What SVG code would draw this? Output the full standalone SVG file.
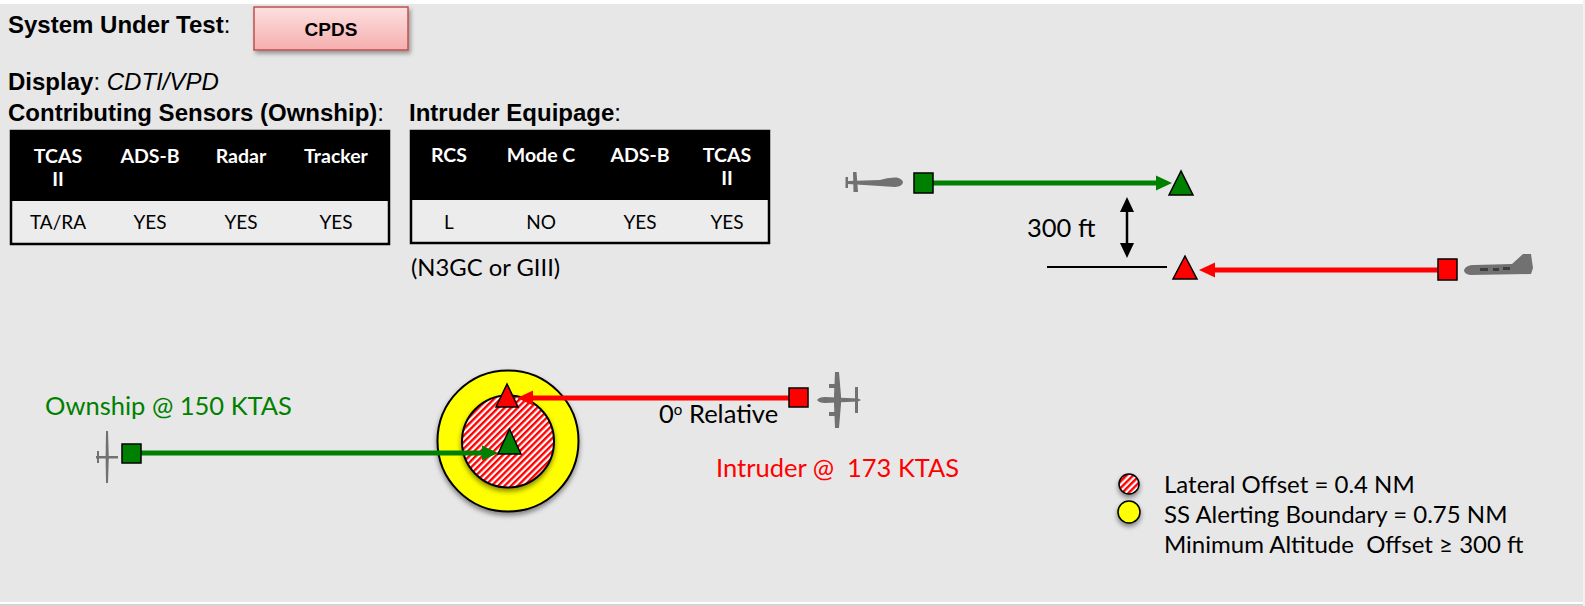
<svg xmlns="http://www.w3.org/2000/svg" width="1585" height="606" viewBox="0 0 1585 606">
  <defs>
    <style>
      .hd { font-family: "Liberation Sans", Arial, sans-serif; font-size: 24px; fill: #000; }
      .b { font-weight: bold; }
      .th { font-family: Lato, "Open Sans", sans-serif; font-weight: 700; font-size: 19.5px; fill: #fff; text-anchor: middle; }
      .td { font-family: Lato, "Open Sans", sans-serif; font-size: 19px; fill: #000; text-anchor: middle; }
      .lbl { font-family: Lato, "Open Sans", sans-serif; font-size: 25.5px; white-space: pre; }
      .note { font-family: Lato, "Open Sans", sans-serif; font-size: 23.8px; fill: #000; }
      .leg { font-family: Lato, "Open Sans", sans-serif; font-size: 24px; fill: #000; white-space: pre; }
      .sq { stroke: #000; stroke-width: 1.5; }
      .tri { stroke: #000; stroke-width: 1.5; stroke-linejoin: miter; }
      .plane { fill: #717171; filter: url(#soft); }
    </style>
    <pattern id="hatch" patternUnits="userSpaceOnUse" width="4.6" height="10" patternTransform="rotate(45)">
      <rect width="4.6" height="10" fill="#fff"/>
      <rect width="2.4" height="10" fill="#ff0000"/>
    </pattern>
    <linearGradient id="pink" x1="0" y1="0" x2="0" y2="1">
      <stop offset="0" stop-color="#fde0e0"/>
      <stop offset="1" stop-color="#f6aeae"/>
    </linearGradient>
    <filter id="shadow" x="-30%" y="-30%" width="160%" height="170%">
      <feDropShadow dx="0" dy="3" stdDeviation="2.5" flood-color="#000" flood-opacity="0.45"/>
    </filter>
    <filter id="boxShadow" x="-10%" y="-20%" width="130%" height="160%">
      <feDropShadow dx="2" dy="3" stdDeviation="2" flood-color="#000" flood-opacity="0.35"/>
    </filter>
    <filter id="soft" x="-20%" y="-20%" width="140%" height="140%">
      <feGaussianBlur stdDeviation="0.6"/>
    </filter>
    <marker id="arrGreen" markerUnits="userSpaceOnUse" markerWidth="16" markerHeight="16" refX="0" refY="8" orient="auto">
      <path d="M0,0.5 L16,8 L0,15.5 Z" fill="#008000"/>
    </marker>
    <marker id="arrRed" markerUnits="userSpaceOnUse" markerWidth="16" markerHeight="16" refX="0" refY="8" orient="auto">
      <path d="M0,0.5 L16,8 L0,15.5 Z" fill="#ff0000"/>
    </marker>
    <marker id="arrBlack" markerUnits="userSpaceOnUse" markerWidth="15" markerHeight="16" refX="0" refY="8" orient="auto-start-reverse">
      <path d="M0,1 L15,8 L0,15 Z" fill="#000"/>
    </marker>
  </defs>

  <!-- page background -->
  <rect width="1585" height="606" fill="#e7e7e7"/>
  <rect width="1585" height="4" fill="#fff"/>
  <rect y="602" width="1585" height="4" fill="#fff"/>
  <rect y="604" width="1585" height="2" fill="#d4d4d4"/>
  <rect x="1583" width="2" height="606" fill="#f2f2f2"/>

  <!-- header -->
  <g id="header">
    <text class="hd" x="8" y="33"><tspan class="b">System Under Test</tspan>:</text>
    <text class="hd" x="8" y="90"><tspan class="b">Display</tspan>: <tspan font-style="italic">CDTI/VPD</tspan></text>
    <text class="hd" x="8" y="121"><tspan class="b">Contributing Sensors (Ownship)</tspan>:</text>
    <text class="hd" x="409" y="121"><tspan class="b">Intruder Equipage</tspan>:</text>
  </g>

  <g id="cpds-box">
    <rect x="254" y="7" width="154" height="43" fill="url(#pink)" stroke="#c0504d" stroke-width="1.5" filter="url(#boxShadow)"/>
    <text x="331" y="36" text-anchor="middle" font-family="Liberation Sans, Arial, sans-serif" font-weight="bold" font-size="19" fill="#000">CPDS</text>
  </g>

  <!-- ownship sensor table -->
  <g id="table-ownship">
    <rect x="11" y="131" width="378" height="113" fill="#ececec" stroke="#000" stroke-width="2.5"/>
    <rect x="11" y="131" width="378" height="70" fill="#000"/>
    <text class="th" x="58" y="163">TCAS</text>
    <text class="th" x="58" y="186">II</text>
    <text class="th" x="150" y="163">ADS-B</text>
    <text class="th" x="241" y="163">Radar</text>
    <text class="th" x="336" y="163">Tracker</text>
    <text class="td" x="58" y="229">TA/RA</text>
    <text class="td" x="150" y="229">YES</text>
    <text class="td" x="241" y="229">YES</text>
    <text class="td" x="336" y="229">YES</text>
  </g>

  <!-- intruder equipage table -->
  <g id="table-intruder">
    <rect x="411" y="131" width="358" height="112" fill="#ececec" stroke="#000" stroke-width="2.5"/>
    <rect x="411" y="131" width="358" height="69" fill="#000"/>
    <text class="th" x="449" y="162">RCS</text>
    <text class="th" x="541" y="162">Mode C</text>
    <text class="th" x="640" y="162">ADS-B</text>
    <text class="th" x="727" y="162">TCAS</text>
    <text class="th" x="727" y="185">II</text>
    <text class="td" x="449" y="229">L</text>
    <text class="td" x="541" y="229">NO</text>
    <text class="td" x="640" y="229">YES</text>
    <text class="td" x="727" y="229">YES</text>
    <text class="note" x="411" y="276">(N3GC or GIII)</text>
  </g>

  <!-- alerting boundary circles -->
  <g id="alert-zone">
    <circle cx="508" cy="441" r="70.5" fill="#ffff00" stroke="#000" stroke-width="2" filter="url(#shadow)"/>
    <circle cx="508" cy="441.5" r="46" fill="url(#hatch)" stroke="#000" stroke-width="2" filter="url(#shadow)"/>
  </g>

  <!-- connectors -->
  <g id="connectors" fill="none">
    <line x1="933" y1="183" x2="1156" y2="183" stroke="#008000" stroke-width="5" marker-end="url(#arrGreen)"/>
    <line x1="1438" y1="270" x2="1215" y2="270" stroke="#ff0000" stroke-width="5" marker-end="url(#arrRed)"/>
    <line x1="1127" y1="212" x2="1127" y2="243" stroke="#000" stroke-width="2.5" marker-start="url(#arrBlack)" marker-end="url(#arrBlack)"/>
    <line x1="1047" y1="267" x2="1167" y2="267" stroke="#000" stroke-width="2"/>
    <line x1="141" y1="453" x2="482" y2="453" stroke="#008000" stroke-width="5" marker-end="url(#arrGreen)"/>
    <line x1="789" y1="398" x2="533" y2="398" stroke="#ff0000" stroke-width="5" marker-end="url(#arrRed)"/>
  </g>

  <!-- side view: ownship -->
  <g id="ownship-side">
    <path class="plane" d="M848,181 L880,180 Q888,177 897,177.5 Q903,179.5 903,182.5 Q902,186.5 895,187 L880,186 L848,184 Z"/>
    <path class="plane" d="M853,172 L856.5,172 L858,192 L853.5,192 Z"/>
    <rect class="plane" x="845.5" y="177" width="2.5" height="11"/>
    <rect x="914" y="173" width="19" height="20" fill="#008000" class="sq"/>
    <polygon class="tri" points="1181,171 1169,195 1193,195" fill="#008000"/>
  </g>

  <!-- side view: intruder -->
  <g id="intruder-side">
    <path class="plane" d="M1464,270 Q1466,265 1474,265 L1512,264 L1523,254 L1531,254 L1533,268 L1531,274 L1470,275 Q1464,274 1464,270 Z"/>
    <path d="M1480,268 h8 v3 h-8 Z M1493,268 h6 v3 h-6 Z M1503,267 h7 v3 h-7 Z" fill="#3c3c3c" filter="url(#soft)"/>
    <rect x="1438" y="259" width="19" height="21" fill="#ff0000" class="sq"/>
    <polygon class="tri" points="1185,256 1173,279 1197,279" fill="#ff0000"/>
    <text class="lbl" x="1027" y="237" fill="#000">300 ft</text>
  </g>

  <!-- top view: ownship -->
  <g id="ownship-top">
    <path class="plane" d="M106,431 L108,431 L108.8,457 L108,483 L106,483 L105.6,457 Z"/>
    <rect class="plane" x="96" y="456" width="22" height="2.5"/>
    <rect class="plane" x="97" y="451" width="2" height="12"/>
    <rect x="122" y="444" width="19" height="19" fill="#008000" class="sq"/>
    <polygon class="tri" points="509.5,429 498,454 521,454" fill="#008000"/>
    <text class="lbl" x="45" y="415" fill="#008000">Ownship @ 150 KTAS</text>
  </g>

  <!-- top view: intruder -->
  <g id="intruder-top">
    <path class="plane" d="M817,400 Q819,397 825,397 L858,398.5 L861,400 L858,401.5 L825,403 Q819,403 817,400 Z"/>
    <path class="plane" d="M835,372 L839,372 L841,396 L841,404 L839,428 L835,428 L834,404 L834,396 Z"/>
    <rect class="plane" x="829" y="384" width="7" height="4"/>
    <rect class="plane" x="829" y="412" width="7" height="4"/>
    <rect class="plane" x="855" y="387" width="3" height="26"/>
    <rect x="789" y="388" width="19" height="19" fill="#ff0000" class="sq"/>
    <polygon class="tri" points="507,384 496,407 518,407" fill="#ff0000"/>
    <text class="lbl" x="659" y="423" fill="#000">0<tspan font-size="15" dy="-8">o</tspan><tspan x="689" dy="8">Relative</tspan></text>
    <text class="lbl" x="716" y="477" fill="#ff0000">Intruder @  173 KTAS</text>
  </g>

  <!-- legend -->
  <g id="legend">
    <circle cx="1129" cy="484" r="10" fill="url(#hatch)" stroke="#000" stroke-width="1.5" filter="url(#shadow)"/>
    <circle cx="1129" cy="512" r="11" fill="#ffff00" stroke="#000" stroke-width="1.5" filter="url(#shadow)"/>
    <text class="leg" x="1164" y="493">Lateral Offset = 0.4 NM</text>
    <text class="leg" x="1164" y="523">SS Alerting Boundary = 0.75 NM</text>
    <text class="leg" x="1164" y="553">Minimum Altitude  Offset ≥ 300 ft</text>
  </g>
</svg>
